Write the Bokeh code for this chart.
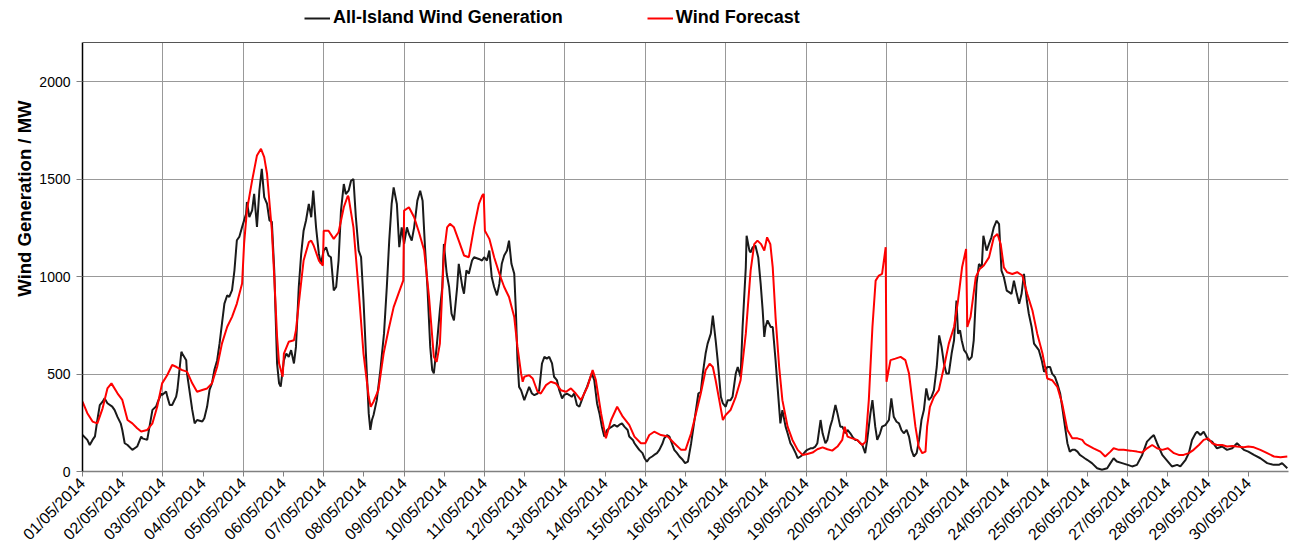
import math
from datetime import datetime, timedelta
from bokeh.plotting import figure
from bokeh.models import (FixedTicker, DatetimeTickFormatter, Legend, LegendItem,
                          Range1d, Title, Span)
from bokeh.embed import file_html
from bokeh.resources import INLINE

START = datetime(2014, 5, 1)

# ---- All-Island Wind Generation (days after 01/05/2014 00:00, MW) ----
gen_day = [
    0.00,0.12,0.18,0.25,0.31,0.37,0.43,0.50,0.55,0.62, 0.74,0.80,0.87,0.95,0.99,1.05,1.12,1.24,1.36,1.46,
    1.49,1.61,1.74,1.83,1.86,1.96,1.98,2.08,2.11,2.17, 2.23,2.33,2.36,2.46,2.48,2.58,2.60,2.73,2.79,2.85,
    2.98,3.03,3.10,3.16,3.22,3.28,3.35,3.41,3.47,3.53, 3.60,3.65,3.72,3.78,3.84,3.90,3.97,4.02,4.07,4.09,
    4.15,4.22,4.27,4.34,4.40,4.46,4.52,4.59,4.65,4.71, 4.77,4.84,4.89,4.93,
    5.01,5.07,5.13,5.19,5.26,5.31,5.38,5.44,5.50,5.56, 5.63,5.69,5.74,5.81,5.88,5.93,6.00,6.06,6.12,6.18,
    6.25,6.31,6.37,6.43,6.50,6.55,6.62,6.68,6.74,6.80, 6.87,6.93,6.99,7.05,7.12,7.16,7.20,7.24,7.32,7.41,
    7.45,7.50,7.57,7.63,7.69,7.74,7.82,7.88,7.94,8.00, 8.07,8.12,8.19,8.25,8.33,8.40,8.46,8.52,8.58,8.65,
    8.70,8.74,8.81,8.89,8.95,8.99,9.06,9.12,9.18,9.24, 9.32,9.36,9.45,9.49,9.55,9.61,9.69,9.74,9.86,9.94,
    9.99,10.06,10.12,10.18,10.24,10.31,10.37,10.43,10.49,10.56, 10.61,10.67,10.74,10.78,10.82,10.86,10.91,10.99,11.05,11.11,
    11.18,11.24,11.32,11.36,11.43,11.49,11.55,11.61,11.68,11.73, 11.80,11.86,11.93,11.98,12.05,12.11,12.17,12.23,12.30,12.36,
    12.42,12.48,12.55,12.61,12.67,12.73,12.80,12.86,12.92,12.98, 13.05,13.10,13.17,13.23,13.30,13.35,13.42,13.48,13.56,13.60,
    13.69,13.73,13.79,13.85,13.93,13.98,14.04,14.10,14.17,14.22, 14.29,14.35,14.43,14.47,14.54,14.60,14.66,14.72,14.79,14.85,
    14.93,14.99,
    15.06,15.14,15.26,15.32,15.38,15.43,15.50,15.55,15.63,15.68, 15.75,15.80,15.88,15.93,16.00,16.05,16.12,16.17,16.25,16.30,
    16.37,16.42,16.50,16.52,16.59,16.62,16.67,16.74,16.81,16.87, 16.92,16.96,16.99,17.04,17.12,17.17,17.24,17.29,17.36,17.41,
    17.49,17.54,17.61,17.66,17.74,17.79,17.86,17.91,17.98,18.03, 18.11,18.16,18.23,18.28,18.36,18.41,18.48,18.53,18.60,18.65,
    18.73,18.78,18.85,18.90,18.98,19.03,19.10,19.15,19.22,19.27, 19.35,19.40,19.47,19.52,19.60,19.65,19.72,19.77,19.84,19.89,
    19.97,
    20.06,20.12,20.18,20.25,20.31,20.37,20.43,20.50,20.56,20.62, 20.68,20.75,20.81,20.87,20.93,20.99,21.05,21.12,21.18,21.25,
    21.31,21.37,21.43,21.49,21.55,21.62,21.68,21.74,21.78,21.83, 21.87,21.93,21.99,22.05,22.12,22.17,22.24,22.30,22.37,22.41,
    22.49,22.55,22.61,22.67,22.74,22.80,22.86,22.92,22.99,23.05, 23.11,23.17,23.24,23.30,23.36,23.42,23.49,23.54,23.61,23.67,
    23.73,23.79,23.86,23.92,24.00,24.07,24.12,24.19,24.25,24.32, 24.37,24.44,24.50,24.56,24.62,24.69,24.75,24.81,24.87,24.93,
    24.99,25.11,25.24,25.36,25.49,25.57,25.65,25.73,25.86,26.00, 26.11,26.23,26.36,26.48,26.56,26.65,26.73,26.86,27.00,27.10,
    27.23,27.31,27.44,27.52,27.60,27.69,27.73,27.81,27.89,28.00, 28.10,28.22,28.35,28.47,28.60,28.72,28.89,29.00,29.14,29.30,
    29.47,29.63,29.76,29.84,29.97,
]
gen_mw = [
    188,162,136,162,180,265,340,358,375,350, 333,315,280,247,213,145,136,111,128,179,
    170,162,316,333,350,400,392,410,384,341, 341,384,418,614,605,571,503,316,247,264,
    256,273,333,418,452,520,571,657,759,861, 904,895,930,1032,1186,1203,1254,1288,1322,1382,
    1305,1339,1424,1254,1441,1552,1407,1373,1288,1280, 1032,554,452,435,
    571,605,588,622,554,639,946,1116,1235,1287, 1372,1304,1440,1252,1116,1065,1133,1150,1108,1099,
    929,946,1082,1338,1474,1423,1440,1491,1500,1304, 1133,1099,878,605,298,213,264,290,366,520,
    605,707,946,1184,1372,1457,1372,1150,1252,1167, 1252,1218,1184,1252,1389,1440,1389,1150,946,639,
    520,503,639,826,946,1167,1014,946,809,775, 946,1065,946,912,1031,1014,1082,1099,1090,1082,
    1099,1082,1133,997,946,903,963,1065,1108,1133, 1184,1065,1014,826,571,434,417,366,400,434,
    400,392,400,417,554,588,579,588,554,486, 469,417,375,392,400,392,383,400,341,332,
    366,400,434,469,503,469,349,298,230,179, 213,221,230,239,230,239,247,230,213,179,
    162,145,128,111,94,68,51,68,77,85, 94,111,145,170,187,179,145,111,94,77,
    60,43,
    51,145,315,400,409,502,605,656,707,800, 673,571,383,349,332,366,366,383,502,536,
    485,741,1047,1209,1133,1124,1150,1158,1098,962, 826,690,741,775,741,741,571,434,247,315,
    230,196,145,128,94,68,77,85,102,111, 119,119,128,145,264,196,145,162,230,264,
    341,298,230,230,196,213,196,179,162,162, 145,136,94,162,298,366,230,162,196,230,
    238,
    264,375,281,255,247,213,196,213,179,111, 77,94,162,264,315,426,366,383,417,536,
    698,639,553,502,502,605,673,877,707,724, 673,622,605,571,588,673,962,1064,1047,1209,
    1133,1167,1201,1252,1286,1269,1030,996,928,920, 911,979,911,860,911,1013,877,809,741,656,
    639,622,571,511,536,536,502,485,451,400, 332,230,145,102,111,111,102,85,77,68,
    60,43,17,9,17,43,68,51,43,34, 26,34,85,153,170,187,145,85,51,26,
    34,26,60,94,162,196,204,187,204,162, 153,119,128,111,119,145,111,102,85,68,
    43,34,34,43,17,
]

# ---- Wind Forecast (days after 01/05/2014 00:00, MW) ----
fc_day = [
    0.00,0.12,0.25,0.37,0.50,0.62,0.72,0.87,0.99,1.12, 1.24,1.36,1.46,1.61,1.74,1.86,1.98,2.11,2.23,2.33,
    2.48,2.60,2.73,2.85,2.98,3.10,3.22,3.35,3.47,3.60, 3.72,3.84,3.97,4.02,4.09,4.22,4.34,4.44,4.52,4.59,
    4.71,4.77,4.84,4.89,4.98,
    5.01,5.13,5.26,5.31,5.38,5.50,5.63,5.69,5.75,5.88, 5.98,6.00,6.12,6.25,6.37,6.50,6.60,6.62,6.74,6.87,
    6.99,7.12,7.17,7.24,7.36,7.49,7.61,7.74,7.86,7.98, 8.00,8.12,8.25,8.37,8.50,8.62,8.74,8.81,8.89,8.99,
    9.07,9.14,9.24,9.36,9.49,9.61,9.74,9.86,9.94,
    9.98,10.01,10.12,10.24,10.37,10.49,10.61,10.74,10.82,10.91, 10.95,10.99,11.11,11.20,11.32,11.40,11.53,11.65,11.78,11.90,
    12.03,12.15,12.27,12.40,12.56,12.69,12.77,12.90,13.02,13.15, 13.30,13.44,13.60,13.73,13.89,14.00,14.10,14.22,14.39,14.56,
    14.72,14.89,
    15.00,15.14,15.26,15.38,15.50,15.60,15.68,15.75,15.84,15.93, 16.00,16.12,16.25,16.37,16.50,16.62,16.71,16.79,16.88,16.96,
    17.03,17.11,17.17,17.24,17.33,17.41,17.54,17.66,17.79,17.91, 18.03,18.16,18.28,18.41,18.53,18.65,18.78,18.90,18.96,19.03,
    19.15,19.27,19.40,19.48,19.56,19.65,19.73,19.81,19.89,19.98,
    20.00,20.10,20.22,20.35,20.47,20.56,20.64,20.72,20.80,20.89, 20.97,21.01,21.08,21.18,21.30,21.43,21.55,21.68,21.78,21.88,
    21.98,22.01,22.09,22.22,22.32,22.42,22.55,22.67,22.76,22.84, 22.92,23.00,23.13,23.25,23.38,23.50,23.63,23.75,23.88,24.00,
    24.12,24.25,24.37,24.50,24.62,24.75,24.87,24.93,
    24.99,25.15,25.32,25.44,25.57,25.65,25.78,25.90,26.07,26.23, 26.36,26.48,26.61,26.73,26.86,27.00,27.15,27.27,27.39,27.52,
    27.64,27.77,27.89,28.00,28.10,28.22,28.35,28.47,28.60,28.72, 28.89,29.00,29.14,29.30,29.47,29.64,29.80,29.97,
]
fc_mw = [
    358,299,256,247,324,426,452,401,367,264, 247,222,205,213,247,333,452,495,546,537,
    520,512,452,409,418,426,452,537,657,742, 793,861,964,1169,1339,1493,1621,1655,1612,1527,
    1237,998,691,554,486,
    605,665,673,724,861,1082,1176,1184,1159,1082, 1056,1235,1235,1193,1227,1355,1414,1406,1252,929,
    605,383,332,358,417,605,724,843,912,980, 1338,1355,1304,1227,1133,895,588,562,656,1116,
    1252,1270,1252,1184,1108,1099,1252,1372,1414,
    1423,1235,1193,1099,1014,946,895,792,639,503, 460,486,494,477,409,400,443,460,451,417,
    409,426,400,366,434,520,469,298,170,264, 332,281,239,179,145,145,187,204,187,179,
    145,111,
    111,196,298,400,519,553,536,468,366,264, 290,315,383,468,707,1030,1166,1184,1166,1133,
    1201,1166,1047,792,536,366,230,162,111,85, 90,97,114,124,114,107,128,162,230,179,
    170,162,136,153,366,741,979,1005,1013,1150,
    460,571,579,588,571,502,366,230,128,94, 102,230,332,383,417,536,656,741,877,1047,
    1141,741,792,996,1039,1056,1098,1201,1218,1167, 1047,1022,1013,1022,1005,911,826,707,605,477,
    468,434,349,213,170,170,162,145,
    136,119,102,77,102,119,111,111,107,102, 97,119,136,119,111,119,94,85,85,94,
    111,136,162,170,145,136,136,128,131,128, 124,128,124,111,94,77,73,77,
]

tick_days = list(range(0, 30))          # one label per day, 01/05 .. 30/05
grid_days = list(range(0, 31, 2))       # vertical gridlines every second day
y_ticks = [0, 500, 1000, 1500, 2000]
Y_MAX = 2200                            # top of the plotted value area

assert len(gen_day) == len(gen_mw)
assert len(fc_day) == len(fc_mw)

EPOCH = datetime(1970, 1, 1)


def to_dt(days):
    return [START + timedelta(days=d) for d in days]


def to_ms(days):
    return [(START + timedelta(days=d) - EPOCH).total_seconds() * 1000.0 for d in days]


FONT = "Liberation Sans"

# geometry: value area 429 px tall, 42 px of legend headroom above it (inside the frame)
AREA_H = 429
HEAD = 42
y_top = Y_MAX * (AREA_H + HEAD) / AREA_H

p = figure(width=1291, height=552, x_axis_type="datetime",
           x_range=Range1d(START, START + timedelta(days=30)),
           y_range=Range1d(0, y_top),
           output_backend="svg", toolbar_location=None,
           min_border_left=82, min_border_right=3,
           min_border_top=0, min_border_bottom=81)

p.background_fill_color = "white"
p.border_fill_color = "white"
p.outline_line_color = None

# grids (vertical ones limited to the value area)
xg = p.xgrid[0]
xg.grid_line_color = "#999999"
try:
    xg.cross_bounds = (0, Y_MAX)
    xg.ticker = FixedTicker(ticks=to_ms(grid_days))
except AttributeError:
    xg.visible = False
    gx = to_dt(grid_days)
    p.segment(x0=gx, y0=[0] * len(gx), x1=gx, y1=[Y_MAX] * len(gx),
              line_color="#999999", line_width=1)
p.ygrid[0].grid_line_color = "#999999"

r_gen = p.line(to_dt(gen_day), gen_mw, line_color="#1a1a1a", line_width=2)
r_fc = p.line(to_dt(fc_day), fc_mw, line_color="#ff0000", line_width=2)

# top border of the value area
p.add_layout(Span(location=Y_MAX, dimension="width", line_color="#555555", line_width=1.2))

# x axis
xa = p.xaxis[0]
xa.ticker = FixedTicker(ticks=to_ms(tick_days))
fmt = "%d/%m/%Y"
xa.formatter = DatetimeTickFormatter(microseconds=fmt, milliseconds=fmt, seconds=fmt,
                                     minsec=fmt, minutes=fmt, hourmin=fmt, hours=fmt,
                                     days=fmt, months=fmt, years=fmt)
xa.major_label_orientation = math.pi / 4
xa.major_label_text_font = FONT
xa.major_label_text_font_size = "16px"
xa.major_label_text_color = "black"
xa.major_label_standoff = 4
xa.major_tick_in = 0
xa.major_tick_out = 5
xa.major_tick_line_color = "#808080"
xa.minor_tick_line_color = None
xa.axis_line_color = "#808080"
xa.axis_line_width = 1.5

# y axis
ya = p.yaxis[0]
ya.ticker = FixedTicker(ticks=y_ticks)
ya.bounds = (0, Y_MAX)
ya.major_label_text_font = FONT
ya.major_label_text_font_size = "14px"
ya.major_label_text_color = "black"
ya.major_label_standoff = 6
ya.major_tick_in = 0
ya.major_tick_out = 6
ya.major_tick_line_color = "#808080"
ya.minor_tick_line_color = None
ya.axis_line_color = "black"
ya.axis_line_width = 1.5

# y axis title placed toward the top like the original
ytitle = Title(text="Wind Generation / MW", align="right", offset=100,
               text_font=FONT, text_font_size="18.5px", text_font_style="bold",
               text_color="black", standoff=4)
p.add_layout(ytitle, "left")

legend = Legend(items=[LegendItem(label="All-Island Wind Generation", renderers=[r_gen]),
                       LegendItem(label="Wind Forecast", renderers=[r_fc])],
                orientation="horizontal", location=(222, 443),
                label_text_font=FONT, label_text_font_size="18px",
                label_text_font_style="bold", label_text_color="black",
                glyph_width=26, glyph_height=20, label_standoff=3, spacing=84,
                padding=0, margin=0, border_line_color=None,
                background_fill_alpha=0)
p.add_layout(legend, "center")

open("out.html", "w").write(file_html(p, INLINE))
